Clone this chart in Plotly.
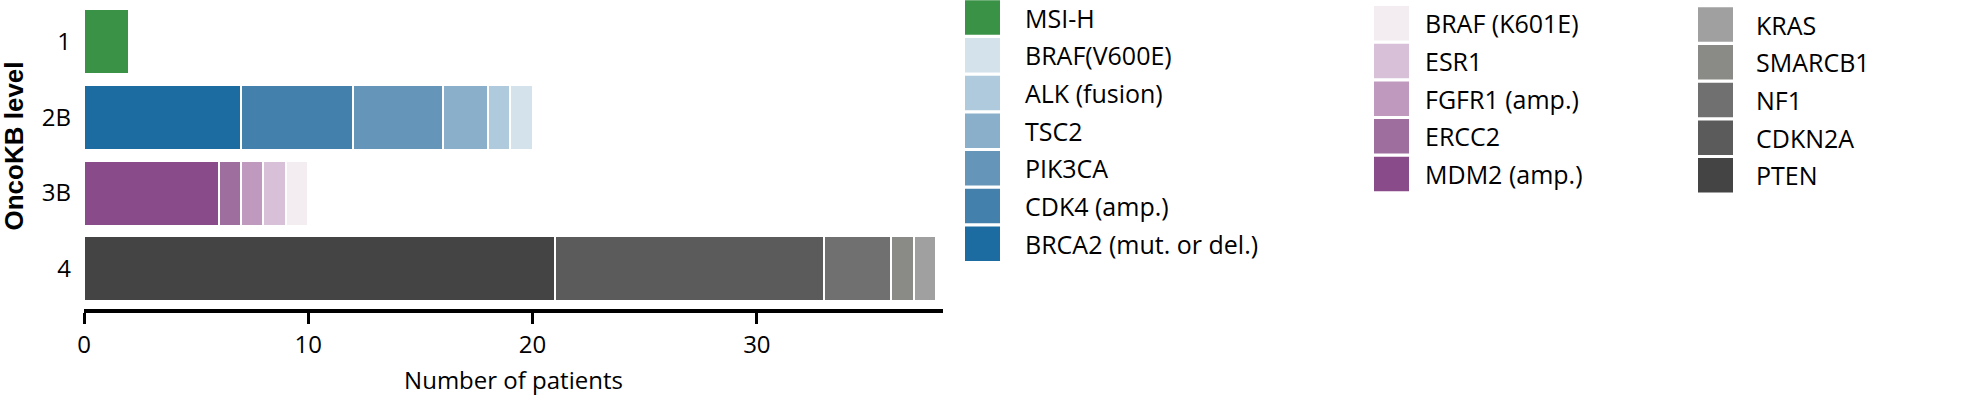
import plotly.graph_objects as go

# OncoKB levels (top to bottom)
levels = ["1", "2B", "3B", "4"]

# genes per level, in stacking order (left to right), and patient counts
level_1_genes = ["MSI-H"]
level_1_counts = [2]

level_2b_genes = ["BRCA2 (mut. or del.)", "CDK4 (amp.)", "PIK3CA", "TSC2", "ALK (fusion)", "BRAF(V600E)"]
level_2b_counts = [7, 5, 4, 2, 1, 1]

level_3b_genes = ["MDM2 (amp.)", "ERCC2", "FGFR1 (amp.)", "ESR1", "BRAF (K601E)"]
level_3b_counts = [6, 1, 1, 1, 1]

level_4_genes = ["PTEN", "CDKN2A", "NF1", "SMARCB1", "KRAS"]
level_4_counts = [21, 12, 3, 1, 1]

x_ticks = [0, 10, 20, 30]

colors = {
    "MSI-H": "#3a9247",
    "BRCA2 (mut. or del.)": "#1c6ca1",
    "CDK4 (amp.)": "#4381ac",
    "PIK3CA": "#6596ba",
    "TSC2": "#8aafcb",
    "ALK (fusion)": "#afcadc",
    "BRAF(V600E)": "#d4e2ec",
    "MDM2 (amp.)": "#8a4b8b",
    "ERCC2": "#9e6e9f",
    "FGFR1 (amp.)": "#bf99be",
    "ESR1": "#d8c1d8",
    "BRAF (K601E)": "#f3edf2",
    "PTEN": "#444444",
    "CDKN2A": "#5a5b5a",
    "NF1": "#6f706f",
    "SMARCB1": "#8a8a86",
    "KRAS": "#a0a0a0",
}

groups = [
    (levels[0], level_1_genes, level_1_counts),
    (levels[1], level_2b_genes, level_2b_counts),
    (levels[2], level_3b_genes, level_3b_counts),
    (levels[3], level_4_genes, level_4_counts),
]

W, H = 1977, 408
L, R, T, B = 84, W - 943, 5, 99

fig = go.Figure()
for level, genes, counts in groups:
    for gene, n in zip(genes, counts):
        fig.add_trace(go.Bar(
            x=[n], y=[level], orientation="h", name=gene,
            marker=dict(color=colors[gene], line=dict(color="white", width=2)),
            showlegend=False,
        ))

# pixel -> paper helpers (for the hand-made legend and the y title)
pw, ph = W - L - R, H - T - B


def px(x):
    return (x - L) / pw


def py(y):
    return (H - B - y) / ph


# legend columns: (genes top to bottom, swatch left, first swatch top, text offset)
legend_cols = [
    (level_1_genes + level_2b_genes[::-1], 965, 0.3, 58),
    (level_3b_genes[::-1], 1374, 6, 49),
    (level_4_genes[::-1], 1698, 7.3, 56),
]
pitch, sw, sh = 37.7, 35, 34.5
shapes, annotations = [], []
for genes, left, top, toff in legend_cols:
    for i, gene in enumerate(genes):
        y0 = top + i * pitch
        shapes.append(dict(
            type="rect", xref="paper", yref="paper",
            x0=px(left), x1=px(left + sw), y0=py(y0 + sh), y1=py(y0),
            fillcolor=colors[gene], line=dict(width=0), layer="above",
        ))
        annotations.append(dict(
            text=gene, xref="paper", yref="paper", showarrow=False,
            x=px(left + toff), y=py(y0 + sh / 2), xanchor="left", yanchor="middle",
            font=dict(size=25, color="black", family="Open Sans"),
        ))

annotations.append(dict(
    text="<b>OncoKB level</b>", xref="paper", yref="paper", showarrow=False,
    x=px(13), y=py(146.5), xanchor="center", yanchor="middle", textangle=-90,
    font=dict(size=26, color="black", family="Liberation Sans"),
))

fig.update_layout(
    width=W, height=H, autosize=False,
    margin=dict(l=L, r=R, t=T, b=B),
    barmode="stack", bargap=0.14,
    plot_bgcolor="white", paper_bgcolor="white",
    font=dict(family="Open Sans", size=24, color="black"),
    shapes=shapes, annotations=annotations,
    showlegend=False,
)
fig.update_xaxes(
    range=[0, 38.3], tickvals=x_ticks, showgrid=False, zeroline=False,
    showline=True, linecolor="black", linewidth=4,
    ticks="outside", ticklen=11, tickwidth=3, tickcolor="black",
    tickfont=dict(size=24),
    title=dict(text="Number of patients", font=dict(size=24), standoff=14),
)
fig.update_yaxes(
    type="category", categoryorder="array", categoryarray=levels,
    range=[3.534, -0.487], showgrid=False, zeroline=False, showline=False,
    ticks="", ticklabelstandoff=12, tickfont=dict(size=24),
)

# page body margin would shift the figure by 8px
fig.write_html(
    "out.html",
    config={"displayModeBar": False},
    post_script="document.body.style.margin='0';",
)
